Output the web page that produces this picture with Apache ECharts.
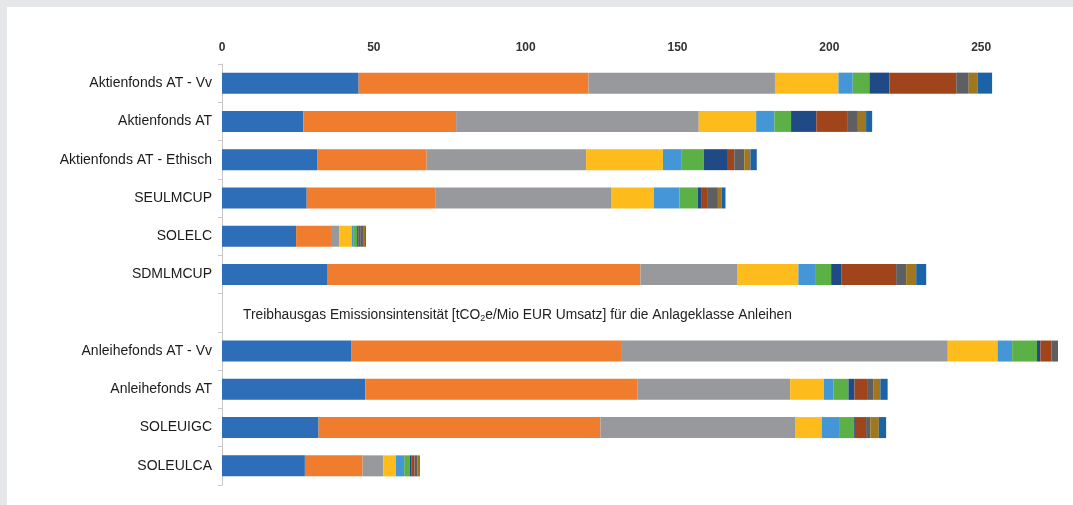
<!DOCTYPE html>
<html><head><meta charset="utf-8">
<script src="https://cdn.jsdelivr.net/npm/echarts@6/dist/echarts.min.js"></script>
<style>
html,body{margin:0;padding:0;background:#e6e7e9;width:1073px;height:505px;overflow:hidden}
#c{position:absolute;left:7px;top:7px;width:1130px;height:498px;background:#fff}
</style></head><body><div id="c"></div>
<script>
const categories = ['Aktienfonds AT - Vv','Aktienfonds AT','Aktienfonds AT - Ethisch','SEULMCUP','SOLELC','SDMLMCUP','','Anleihefonds AT - Vv','Anleihefonds AT','SOLEUIGC','SOLEULCA'];
const xTicks = [0,50,100,150,200,250];
const seg1  = [45.0,26.8,31.3,27.9,24.4,34.8,null,42.5,47.2,31.8,27.3];
const seg2  = [75.7,50.3,36.1,42.3,11.5,103.0,null,89.2,89.7,92.8,19.0];
const seg3  = [61.4,79.9,52.5,57.9,2.7,31.8,null,107.3,50.2,64.1,6.8];
const seg4  = [20.9,18.9,25.3,14.1,4.1,20.2,null,16.4,11.1,8.8,4.2];
const seg5  = [4.7,6.0,6.0,8.4,0.7,5.5,null,4.8,3.1,5.7,2.7];
const seg6  = [5.5,5.5,7.5,6.1,1.1,5.3,null,8.2,5.0,4.9,1.9];
const seg7  = [6.6,8.3,7.6,1.3,0.5,3.3,null,1.1,2.0,0.3,0.4];
const seg8  = [22.0,10.4,2.4,2.0,0.5,18.1,null,3.6,4.4,3.7,1.1];
const seg9  = [4.1,3.3,3.3,3.3,1.2,3.3,null,2.2,1.9,1.4,0.9];
const seg10 = [3.0,2.7,2.0,1.3,0.4,3.3,null,0,2.2,2.8,0.9];
const seg11 = [4.7,2.0,2.1,1.2,0.3,3.3,null,0,2.4,2.4,0];
const segments = [seg1,seg2,seg3,seg4,seg5,seg6,seg7,seg8,seg9,seg10,seg11];
const colors = ['#2e6db8','#f07d2e','#98999c','#fdbb1c','#4596d6','#5cb146','#1f4a86','#a0441c','#5d5f63','#a0761f','#1a63a6'];
const noteText = 'Treibhausgas Emissionsintensität [tCO{sub|2}e/Mio EUR Umsatz] für die Anlageklasse Anleihen';

const chart = echarts.init(document.getElementById('c'));
chart.setOption({
  animation:false,
  grid:{left:215,top:57,height:421,width:911,containLabel:false,outerBoundsMode:'none'},
  xAxis:{type:'value',position:'top',min:0,max:300,interval:50,
    axisLine:{show:false},axisTick:{show:false},splitLine:{show:false},
    axisLabel:{margin:10,fontSize:12,fontWeight:'bold',color:'#333',fontFamily:'Liberation Sans Narrow, Liberation Sans, Arial',
      formatter:v=>xTicks.includes(v)?String(v):''}},
  yAxis:{type:'category',inverse:true,data:categories,
    axisLine:{show:true,lineStyle:{color:'#c8c8c8'}},
    axisTick:{show:true,length:4,lineStyle:{color:'#c8c8c8'}},
    axisLabel:{margin:10,fontSize:14,color:'#1a1a1a',fontFamily:'Liberation Sans, Arial'}},
  series:segments.map((d,i)=>({type:'bar',name:'S'+(i+1),stack:'t',data:d,barWidth:21,
    itemStyle:{color:colors[i]},emphasis:{disabled:true}})),
  graphic:[{type:'text',left:236,top:301,style:{text:noteText,fill:'#222',
    font:'13.8px Liberation Sans, Arial',
    rich:{sub:{fontSize:9,verticalAlign:'bottom',padding:[7,0,0,0],fill:'#222'}}}}]
});
</script></body></html>
